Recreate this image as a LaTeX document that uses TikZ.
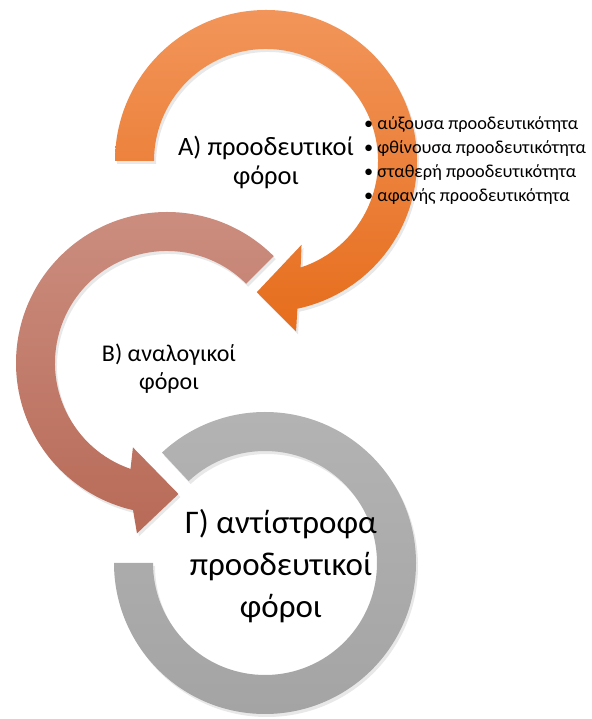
\documentclass[tikz,border=0pt]{standalone}
\usepackage{fontspec}
\setmainfont{Carlito}
\usetikzlibrary{shadows}
\definecolor{orangetop}{HTML}{F2955A}
\definecolor{orangebot}{HTML}{E66D1C}
\definecolor{rosetop}{HTML}{CC8F81}
\definecolor{rosebot}{HTML}{B86A57}
\definecolor{greytop}{HTML}{B3B3B3}
\definecolor{greybot}{HTML}{A4A4A4}

\begin{document}
\begin{tikzpicture}[line cap=round,line join=round,x=1pt,y=1pt,
  band/.style={draw=none,drop shadow={shadow xshift=2pt,shadow yshift=-3pt,opacity=.18}},
  title/.style={align=center,inner sep=0pt,text=black}]
\useasboundingbox (0,0) rectangle (591,719);
% grey ring (C)
\begin{scope}[shift={(265,156)}]
\shade[band,top color=greytop,bottom color=greybot] (180:151) arc[start angle=180,end angle=493,radius=151]
  -- (493:112) arc[start angle=493,end angle=180,radius=112] -- cycle;
\end{scope}
% rose arrow (B)
\begin{scope}[shift={(167,356)}]
\shade[band,top color=rosetop,bottom color=rosebot] (45:151) arc[start angle=45,end angle=257,radius=151]
  -- (260:173) -- (275:131.5) -- (248:91) -- (251:112) arc[start angle=251,end angle=45,radius=112] -- cycle;
\end{scope}
% orange arrow (A)
\begin{scope}[shift={(266,558)}]
\shade[band,top color=orangetop,bottom color=orangebot] (180:151) arc[start angle=180,end angle=-78,radius=151]
  -- (-80:173) -- (-94:131.5) -- (-67:91) -- (-72:112) arc[start angle=-72,end angle=180,radius=112] -- cycle;
\end{scope}
\node[title,font=\fontsize{26.5}{29}\selectfont] (progr) at (266,557) {Α) προοδευτικοί\\φόροι};
\node[anchor=west,align=left,inner sep=0pt,font=\fontsize{18.3}{24}\selectfont] (kinds) at (364,558)
  {• αύξουσα προοδευτικότητα\\• φθίνουσα προοδευτικότητα\\• σταθερή προοδευτικότητα\\• αφανής προοδευτικότητα};
\node[title,font=\fontsize{24}{28}\selectfont] (analog) at (169,350) {Β) αναλογικοί\\φόροι};
\node[title,font=\fontsize{33}{42}\selectfont] (antistr) at (281,153) {Γ) αντίστροφα\\προοδευτικοί\\φόροι};
\end{tikzpicture}
\end{document}
